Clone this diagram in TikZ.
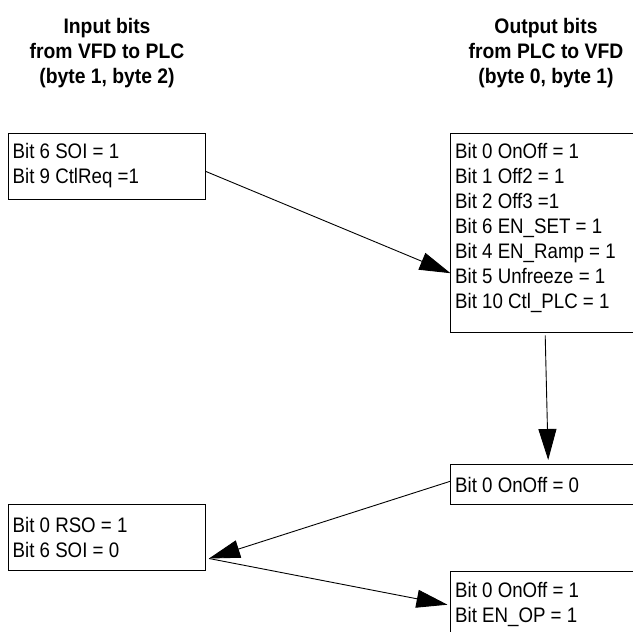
\documentclass[tikz,border=0pt]{standalone}
\usepackage{fontspec}
\setmainfont{Liberation Sans}[FakeStretch=0.89]
\newfontfamily\titlefont{Liberation Sans}[FakeStretch=0.92]
\usetikzlibrary{arrows.meta}
\newcommand{\lnstrut}{\rule[-6pt]{0pt}{25pt}}
\begin{document}
\begin{tikzpicture}[x=1pt,y=-1pt,
  box/.style={inner sep=0pt, anchor=north west},
  edge/.style={line width=1pt},
  txt/.style={anchor=north west, inner sep=0pt, align=left, font=\fontsize{21}{25}\selectfont},
  ttl/.style={anchor=north, inner sep=0pt, align=center, font=\titlefont\bfseries\fontsize{21}{25}\selectfont},
  conn/.style={line width=0.9pt, -{Triangle[length=31pt,width=18pt]}}]
\useasboundingbox[fill=white] (0,0) rectangle (633,632);

% titles
\node[ttl] (T1) at (107,14) {\lnstrut Input bits\\\lnstrut from VFD to PLC\\\lnstrut (byte 1, byte 2)};
\node[ttl] (T2) at (546,14) {\lnstrut Output bits\\\lnstrut from PLC to VFD\\\lnstrut (byte 0, byte 1)};

% boxes (right-hand boxes run past the picture's right edge)
\node[box, draw, edge, minimum width=197pt, minimum height=66pt] (L1) at (8,133) {};
\node[txt] (tL1) at (12.5,139) {\lnstrut Bit 6 SOI = 1\\\lnstrut Bit 9 CtlReq =1};

\node[box, minimum width=190pt, minimum height=199pt] (R1) at (450.5,133) {};
\draw[edge] (R1.north east) -- (R1.north west) -- (R1.south west) -- (R1.south east);
\node[txt] (tR1) at (455,139) {\lnstrut Bit 0 OnOff = 1\\\lnstrut Bit 1 Off2 = 1\\\lnstrut Bit 2 Off3 =1\\\lnstrut Bit 6 EN\_SET = 1\\\lnstrut Bit 4 EN\_Ramp = 1\\\lnstrut Bit 5 Unfreeze = 1\\\lnstrut Bit 10 Ctl\_PLC = 1};

\node[box, minimum width=190pt, minimum height=40pt] (R2) at (450.5,464) {};
\draw[edge] (R2.north east) -- (R2.north west) -- (R2.south west) -- (R2.south east);
\node[txt] (tR2) at (455,473) {\lnstrut Bit 0 OnOff = 0};

\node[box, draw, edge, minimum width=197pt, minimum height=66pt] (L2) at (8,504) {};
\node[txt] (tL2) at (12.5,513) {\lnstrut Bit 0 RSO = 1\\\lnstrut Bit 6 SOI = 0};

\node[box, minimum width=190pt, minimum height=61pt] (R3) at (450.5,571) {};
\draw[edge] (R3.north east) -- (R3.north west) -- (R3.south west);
\node[txt] (tR3) at (455,578) {\lnstrut Bit 0 OnOff = 1\\\lnstrut Bit EN\_OP = 1};

% connectors
\draw[conn] ([yshift=-5pt]L1.east) -- ([yshift=-40.5pt]R1.west);
\draw[conn] ([xshift=-0.5pt,yshift=-3pt]R1.south) -- ([xshift=2.5pt,yshift=4pt]R2.north);
\draw[conn] ([yshift=3pt]R2.west) -- ([xshift=3pt,yshift=-21pt]L2.east);
\draw[conn] ([xshift=3pt,yshift=-21pt]L2.east) -- ([xshift=-3pt,yshift=-3pt]R3.west);
\end{tikzpicture}
\end{document}
